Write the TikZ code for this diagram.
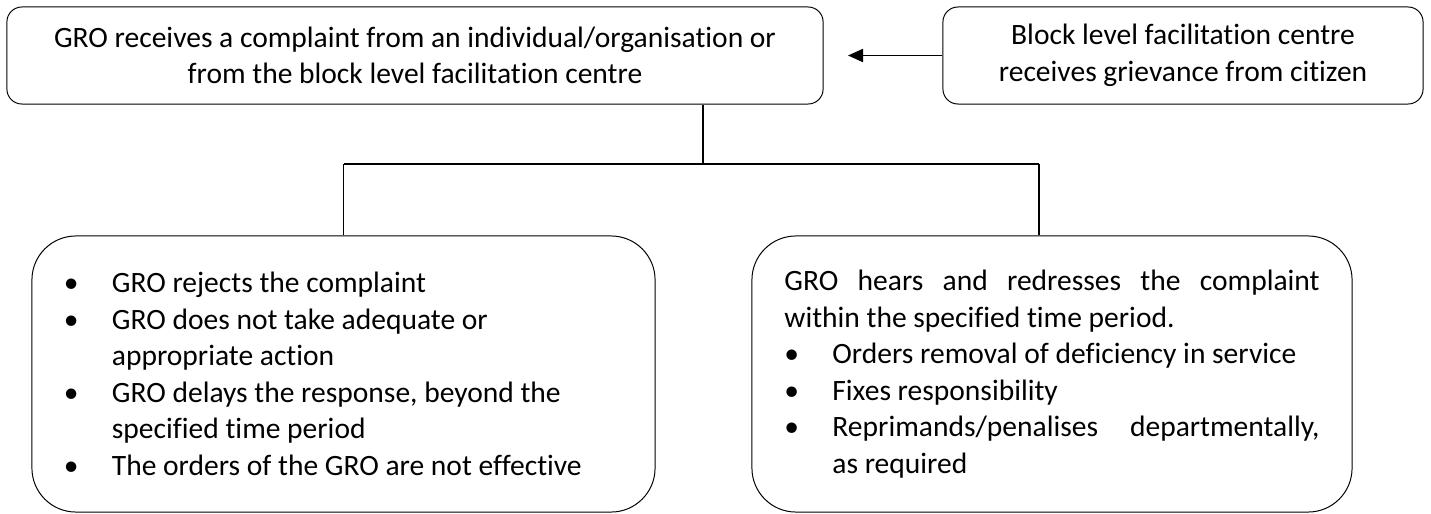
\documentclass[tikz,border=0pt]{standalone}
\usepackage{fontspec}
\setmainfont{Carlito}[Ligatures={NoCommon}]
\usepackage{tikz}
\usetikzlibrary{arrows.meta,positioning}

\newcommand{\bitem}{\hangindent=1.2cm\hangafter=1\noindent\makebox[1.2cm][l]{\textbullet}}
\tikzset{
  headbox/.style={draw, rounded corners=0.375cm, line width=0.7pt, inner sep=0pt,
    minimum height=2.425cm, align=center},
  listbox/.style={draw, rounded corners=1.1cm, line width=0.7pt, inner sep=0pt,
    minimum height=6.9cm},
  link/.style={line width=0.8pt},
}

\begin{document}
\begin{tikzpicture}[x=0.025cm, y=-0.025cm, font=\fontsize{21}{26}\selectfont]
  \useasboundingbox (0,0) rectangle (1431,513);
  \node[headbox, minimum width=20.4cm] (gro) at (415,55.5)
    {GRO receives a complaint from an individual/organisation or\\from the block level facilitation centre};
  \node[headbox, minimum width=12cm] (blc) at (1183,55.5)
    {Block level facilitation centre\\receives grievance from citizen};
  \node[listbox, minimum width=15.575cm, text width=13.975cm, align=flush left] (rej) at (343.5,374)
    {\bitem GRO rejects the complaint\par
     \bitem GRO does not take adequate or\newline appropriate action\par
     \bitem GRO delays the response, beyond the\newline specified time period\par
     \bitem The orders of the GRO are not effective\par};
  \node[listbox, minimum width=15cm, text width=13.375cm, align=justify] (hrs) at (1052,374)
    {\noindent GRO hears and redresses the complaint\linebreak within the specified time period.\par
     \bitem Orders removal of deficiency in service\par
     \bitem Fixes responsibility\par
     \bitem Reprimands/penalises departmentally,\linebreak as required\par};
  \coordinate (tip) at (848,55.5);
  \coordinate (split) at (703,164);
  \coordinate (rgt) at (1039,164);
  \draw[link, -{Triangle[length=0.375cm, width=0.33cm]}] (blc.west) -- (tip);
  \draw[link] (gro.south -| split) -- (split);
  \draw[link] (rej.north |- split) -- (rgt);
  \draw[link] (rej.north |- split) -- (rej.north);
  \draw[link] (rgt) -- (rgt |- hrs.north);
\end{tikzpicture}
\end{document}
